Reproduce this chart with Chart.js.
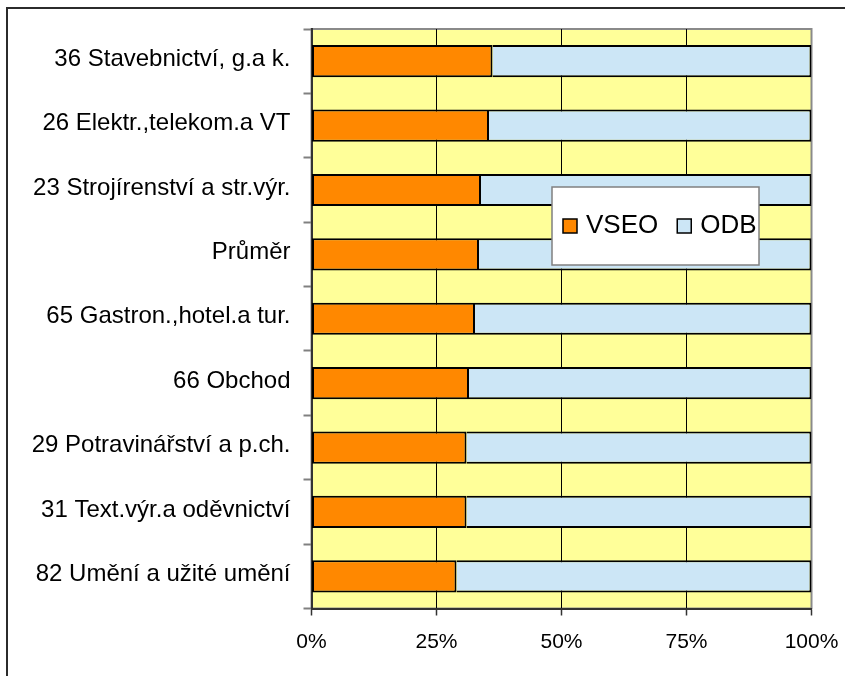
<!DOCTYPE html>
<html>
<head>
<meta charset="utf-8">
<script src="https://cdn.jsdelivr.net/npm/chart.js@4.4.0/dist/chart.umd.min.js"></script>
<style>
html,body{margin:0;padding:0;background:#fff;overflow:hidden}
#wrap{position:absolute;left:0;top:0;width:845px;height:676px}
</style>
</head>
<body>
<div id="wrap"><canvas id="c" width="845" height="676"></canvas></div>
<script>
const categories = [
  "36 Stavebnictví, g.a k.",
  "26 Elektr.,telekom.a VT",
  "23 Strojírenství a str.výr.",
  "Průměr",
  "65 Gastron.,hotel.a tur.",
  "66 Obchod",
  "29 Potravinářství a p.ch.",
  "31 Text.výr.a oděvnictví",
  "82 Umění a užité umění"
];
const vseoValues = [36.2, 35.5, 33.9, 33.5, 32.7, 31.5, 31.0, 31.0, 29.0];
const odbValues  = [63.8, 64.5, 66.1, 66.5, 67.3, 68.5, 69.0, 69.0, 71.0];
const xTickValues = [0, 25, 50, 75, 100];
const seriesNames = ["VSEO", "ODB"];
const seriesColors = ["#FF8800", "#CCE6F6"];

const FONT = '"Liberation Sans", Arial, sans-serif';

const decorPlugin = {
  id: 'decor',
  beforeDraw(chart) {
    const ctx = chart.ctx, a = chart.chartArea;
    ctx.save();
    // outer frame (top and left)
    ctx.fillStyle = '#2b2b2b';
    ctx.fillRect(6, 7, 839, 2);
    ctx.fillRect(6, 7, 2, 669);
    // plot background
    ctx.fillStyle = '#FFFF99';
    ctx.fillRect(a.left, a.top, a.right - a.left, a.bottom - a.top);
    // plot border
    ctx.strokeStyle = '#8a8a8a';
    ctx.lineWidth = 2;
    ctx.strokeRect(a.left, a.top, a.right - a.left, a.bottom - a.top);
    ctx.restore();
  },
  afterDraw(chart) {
    const ctx = chart.ctx;
    ctx.save();
    // legend box
    const bx = 552, by = 187, bw = 207, bh = 78;
    ctx.fillStyle = '#ffffff';
    ctx.fillRect(bx, by, bw, bh);
    ctx.strokeStyle = '#808080';
    ctx.lineWidth = 1.5;
    ctx.strokeRect(bx, by, bw, bh);
    ctx.font = '26px ' + FONT;
    ctx.textBaseline = 'alphabetic';
    ctx.textAlign = 'left';
    let x = 563;
    chart.data.datasets.forEach((ds) => {
      ctx.fillStyle = ds.backgroundColor;
      ctx.fillRect(x, 219, 14, 14);
      ctx.strokeStyle = '#000';
      ctx.lineWidth = 1.5;
      ctx.strokeRect(x, 219, 14, 14);
      ctx.fillStyle = '#000';
      ctx.fillText(ds.label, x + 23, 232.5);
      x += 23 + ctx.measureText(ds.label).width + 19;
    });
    ctx.restore();
  }
};

new Chart(document.getElementById('c'), {
  type: 'bar',
  data: {
    labels: categories,
    datasets: [
      {
        label: seriesNames[0], data: vseoValues,
        backgroundColor: seriesColors[0], borderColor: '#000', borderWidth: 2,
        borderSkipped: false, barPercentage: 0.5, categoryPercentage: 1
      },
      {
        label: seriesNames[1], data: odbValues,
        backgroundColor: seriesColors[1], borderColor: '#000', borderWidth: 2,
        borderSkipped: 'start', barPercentage: 0.5, categoryPercentage: 1
      }
    ]
  },
  options: {
    indexAxis: 'y',
    responsive: false,
    animation: false,
    devicePixelRatio: 1,
    layout: { padding: { top: 29, right: 33.5, left: 0, bottom: 0 } },
    plugins: { legend: { display: false }, tooltip: { enabled: false } },
    scales: {
      x: {
        stacked: true, min: 0, max: 100, position: 'bottom',
        afterBuildTicks: (s) => { s.ticks = xTickValues.map(v => ({ value: v })); },
        ticks: {
          callback: (v) => v + '%', font: { family: FONT, size: 21 }, color: '#000',
          padding: 14, maxRotation: 0, autoSkip: false
        },
        grid: {
          color: (c) => (c.tick && (c.tick.value === 0 || c.tick.value === 100)) ? 'rgba(0,0,0,0)' : '#000',
          lineWidth: 1, tickColor: '#333', tickLength: 7, tickWidth: 1.5, drawTicks: true
        },
        border: { display: true, color: '#333', width: 2 },
        afterFit: (s) => { s.height = 67.5; s.paddingLeft = 0; s.paddingRight = 0; }
      },
      y: {
        stacked: true,
        ticks: { font: { family: FONT, size: 24 }, color: '#000', padding: 13, labelOffset: -2, autoSkip: false },
        grid: { drawOnChartArea: false, drawTicks: true, tickLength: 8, tickColor: '#808080', tickWidth: 2, offset: true },
        border: { display: true, color: '#333', width: 2 },
        afterFit: (s) => { s.width = 311.5; s.paddingTop = 0; s.paddingBottom = 0; }
      }
    }
  },
  plugins: [decorPlugin]
});
</script>
</body>
</html>
